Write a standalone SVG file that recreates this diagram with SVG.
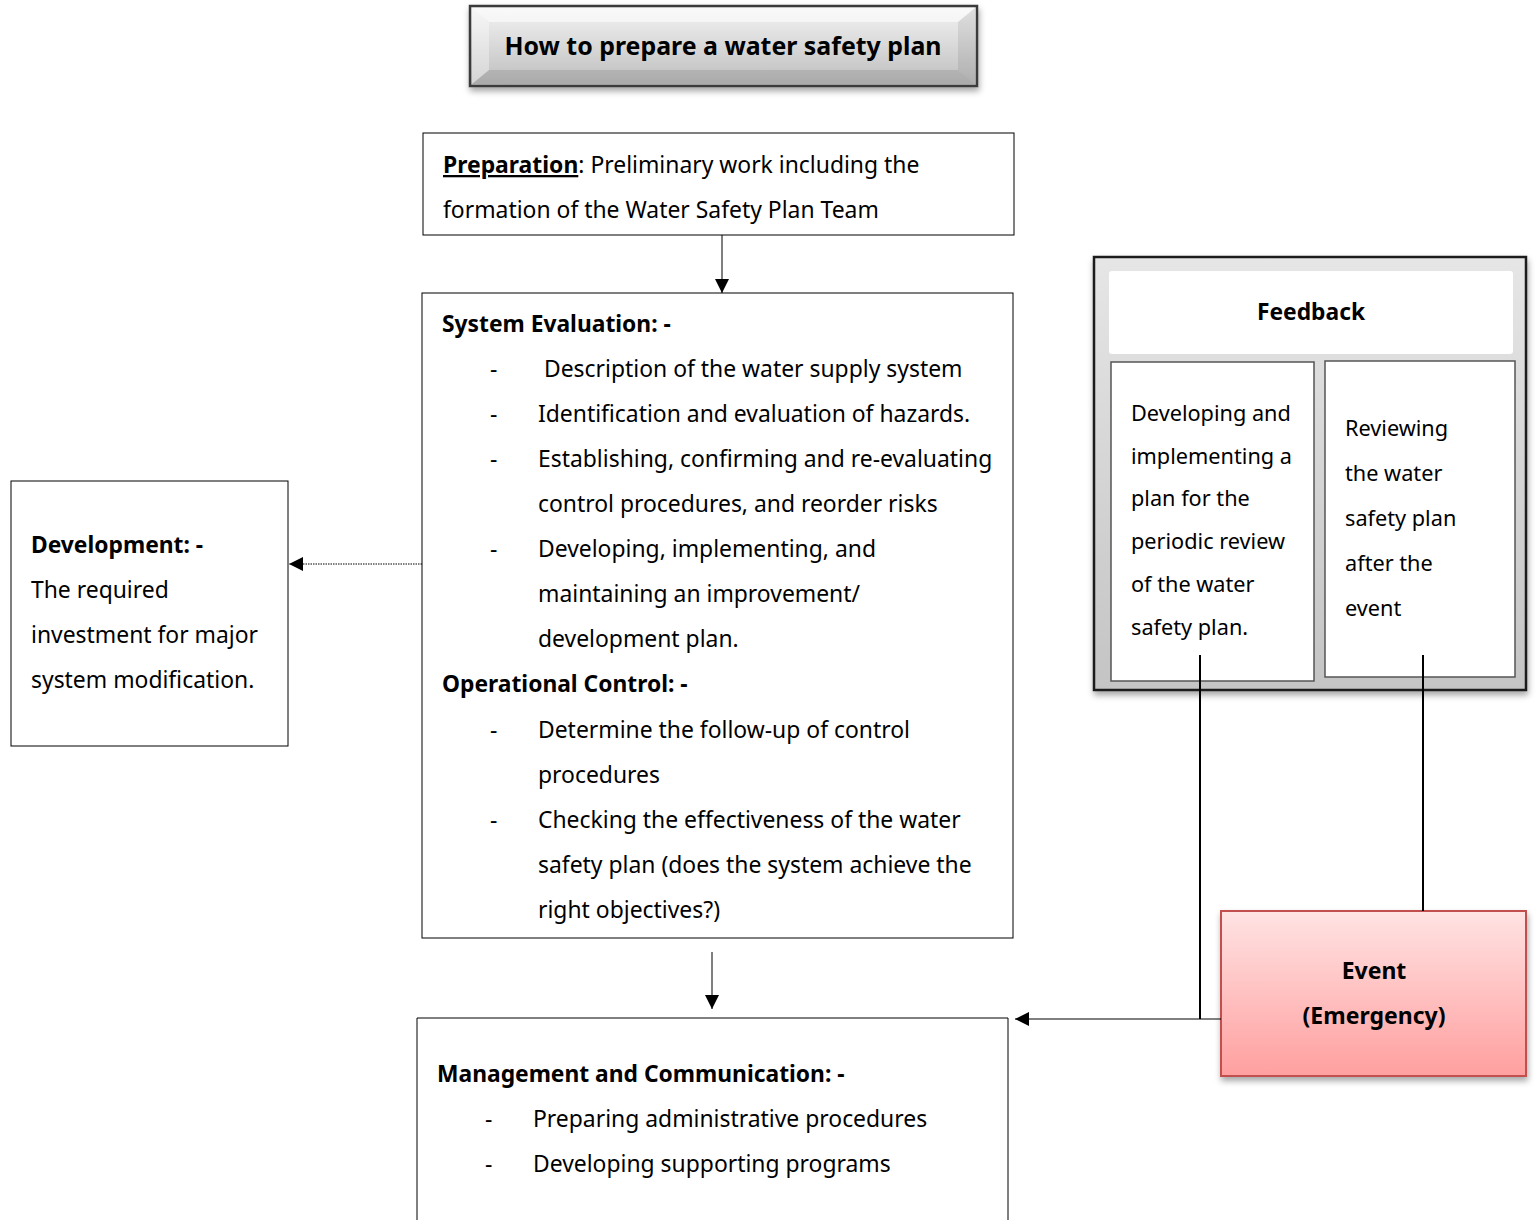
<svg xmlns="http://www.w3.org/2000/svg" width="1536" height="1220" viewBox="0 0 1536 1220">
<defs>
<style>
text{font-family:"Noto Sans","Open Sans","DejaVu Sans",sans-serif;fill:#000}
.t{font-size:22.9px}
.b{font-size:22.8px;font-weight:bold}
.f{font-size:21.7px}
.box{fill:#fff;stroke:#000;stroke-width:1}
.ln{stroke:#000;stroke-width:1;fill:none}
.lnb{stroke:#000;stroke-width:2;fill:none}
</style>
<linearGradient id="gTitle" x1="0" y1="0" x2="0" y2="1">
<stop offset="0" stop-color="#f4f4f4"/>
<stop offset="1" stop-color="#bdbdbd"/>
</linearGradient>
<linearGradient id="gFb" x1="0" y1="0" x2="0" y2="1">
<stop offset="0" stop-color="#e6e6e6"/>
<stop offset="1" stop-color="#c4c4c4"/>
</linearGradient>
<linearGradient id="gEv" x1="0" y1="0" x2="0" y2="1">
<stop offset="0" stop-color="#ffe3e3"/>
<stop offset="1" stop-color="#ff9f9f"/>
</linearGradient>
<filter id="sh" x="-10%" y="-10%" width="120%" height="130%">
<feDropShadow dx="1" dy="4" stdDeviation="3" flood-color="#000" flood-opacity="0.35"/>
</filter>
<marker id="ah" viewBox="0 0 10 10" refX="10" refY="5" markerWidth="14" markerHeight="14" markerUnits="userSpaceOnUse" orient="auto">
<path d="M0,0 L10,5 L0,10 Z" fill="#000"/>
</marker>
</defs>

<g id="title">
<rect x="470" y="6" width="507" height="80" fill="url(#gTitle)" stroke="#3a3a3a" stroke-width="2.5" filter="url(#sh)"/>
<polygon points="472,8 975,8 958,22 489,22" fill="#fff" opacity="0.55"/>
<polygon points="472,8 489,22 489,70 472,84" fill="#fff" opacity="0.35"/>
<polygon points="975,8 958,22 958,70 975,84" fill="#000" opacity="0.08"/>
<polygon points="472,84 489,70 958,70 975,84" fill="#000" opacity="0.1"/>
<text x="723" y="55" text-anchor="middle" style="font-size:24.9px;font-weight:bold">How to prepare a water safety plan</text>
</g>

<g id="preparation">
<rect class="box" x="423" y="133" width="591" height="102"/>
<text class="t" x="443" y="173"><tspan font-weight="bold" text-decoration="underline">Preparation</tspan>: Preliminary work including the</text>
<text class="t" x="443" y="218">formation of the Water Safety Plan Team</text>
</g>

<g id="evaluation">
<rect class="box" x="422" y="293" width="591" height="645"/>
<text class="b" x="442" y="332">System Evaluation: -</text>
<text class="t" x="490" y="377">-</text><text class="t" x="544" y="377">Description of the water supply system</text>
<text class="t" x="490" y="422">-</text><text class="t" x="538" y="422">Identification and evaluation of hazards.</text>
<text class="t" x="490" y="467">-</text><text class="t" x="538" y="467">Establishing, confirming and re-evaluating</text>
<text class="t" x="538" y="512">control procedures, and reorder risks</text>
<text class="t" x="490" y="557">-</text><text class="t" x="538" y="557">Developing, implementing, and</text>
<text class="t" x="538" y="602">maintaining an improvement/</text>
<text class="t" x="538" y="647">development plan.</text>
<text class="b" x="442" y="692">Operational Control: -</text>
<text class="t" x="490" y="738">-</text><text class="t" x="538" y="738">Determine the follow-up of control</text>
<text class="t" x="538" y="783">procedures</text>
<text class="t" x="490" y="828">-</text><text class="t" x="538" y="828">Checking the effectiveness of the water</text>
<text class="t" x="538" y="873">safety plan (does the system achieve the</text>
<text class="t" x="538" y="918">right objectives?)</text>
</g>

<g id="development">
<rect class="box" x="11" y="481" width="277" height="265"/>
<text class="b" x="31" y="553">Development: -</text>
<text class="t" x="31" y="598">The required</text>
<text class="t" x="31" y="643">investment for major</text>
<text class="t" x="31" y="688">system modification.</text>
</g>

<g id="management">
<path class="ln" d="M417,1220 V1018 H1008 V1220"/>
<text class="b" x="437" y="1082">Management and Communication: -</text>
<text class="t" x="485" y="1127">-</text><text class="t" x="533" y="1127">Preparing administrative procedures</text>
<text class="t" x="485" y="1172">-</text><text class="t" x="533" y="1172">Developing supporting programs</text>
</g>

<g id="feedback">
<rect x="1094" y="257" width="432" height="433" fill="url(#gFb)" stroke="#1a1a1a" stroke-width="2.5" filter="url(#sh)"/>
<rect x="1109" y="271" width="404" height="83" rx="3" fill="#fff"/>
<text x="1311" y="320" text-anchor="middle" style="font-size:22.8px;font-weight:bold">Feedback</text>
<rect x="1111" y="362" width="203" height="319" fill="#fff" stroke="#555" stroke-width="1.5"/>
<text class="f" x="1131" y="421">Developing and</text>
<text class="f" x="1131" y="464">implementing a</text>
<text class="f" x="1131" y="506">plan for the</text>
<text class="f" x="1131" y="549">periodic review</text>
<text class="f" x="1131" y="592">of the water</text>
<text class="f" x="1131" y="635">safety plan.</text>
<rect x="1325" y="361" width="190" height="316" fill="#fff" stroke="#555" stroke-width="1.5"/>
<text class="f" x="1345" y="436">Reviewing</text>
<text class="f" x="1345" y="481">the water</text>
<text class="f" x="1345" y="526">safety plan</text>
<text class="f" x="1345" y="571">after the</text>
<text class="f" x="1345" y="616">event</text>
</g>

<g id="event">
<rect x="1221" y="911" width="305" height="165" fill="url(#gEv)" stroke="#c0504d" stroke-width="2" filter="url(#sh)"/>
<text x="1374" y="979" text-anchor="middle" style="font-size:23px;font-weight:bold">Event</text>
<text x="1374" y="1024" text-anchor="middle" style="font-size:23px;font-weight:bold">(Emergency)</text>
</g>

<g id="connectors">
<line class="ln" x1="722" y1="235" x2="722" y2="293" marker-end="url(#ah)"/>
<line class="ln" x1="422" y1="564" x2="289" y2="564" stroke-dasharray="1.5,1" marker-end="url(#ah)"/>
<line class="ln" x1="712" y1="952" x2="712" y2="1009" marker-end="url(#ah)"/>
<line class="lnb" x1="1200" y1="655" x2="1200" y2="1019"/>
<line class="lnb" x1="1423" y1="655" x2="1423" y2="911"/>
<line class="ln" x1="1221" y1="1019" x2="1015" y2="1019" marker-end="url(#ah)"/>
</g>
</svg>
